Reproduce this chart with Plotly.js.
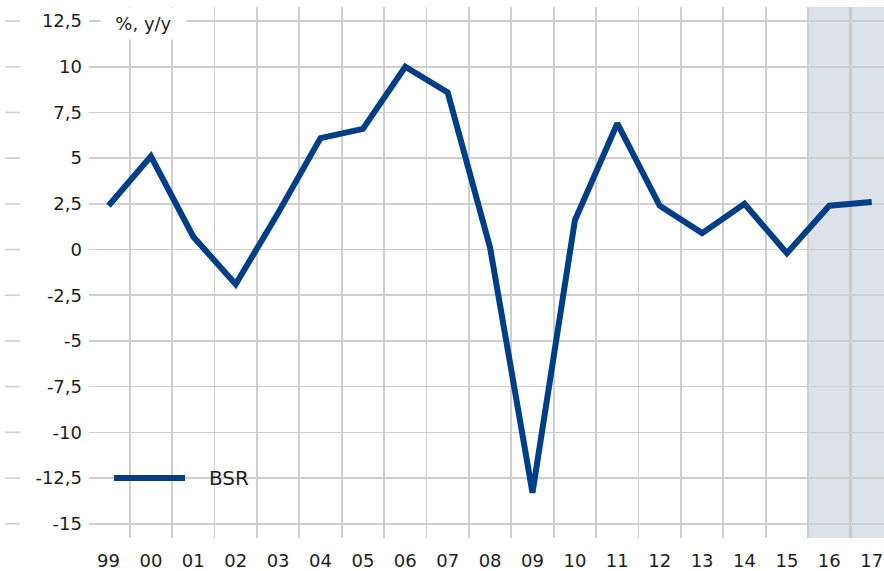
<!DOCTYPE html>
<html><head><meta charset="utf-8">
<script src="https://cdn.plot.ly/plotly-3.0.1.min.js"></script>
<style>html,body{margin:0;padding:0;background:#fff;}#chart{width:884px;height:571px;}</style>
</head><body><div id="chart"></div>
<script>
const years = ["99","00","01","02","03","04","05","06","07","08","09","10","11","12","13","14","15","16","17"];
const bsr = [2.4, 5.1, 0.7, -1.9, 2.0, 6.1, 6.6, 10.0, 8.6, 0.1, -13.3, 1.6, 6.9, 2.4, 0.9, 2.5, -0.2, 2.4, 2.6];
const yTickVals = [12.5, 10, 7.5, 5, 2.5, 0, -2.5, -5, -7.5, -10, -12.5, -15];
const yTickText = ["12,5","10","7,5","5","2,5","0","-2,5","-5","-7,5","-10","-12,5","-15"];
const seriesName = "BSR";
const unitLabel = "%, y/y";
const forecastFrom = "16";
const forecastSplit = "17";

const FONT = "DejaVu Sans";
const LINE = "#003f88";
const GRID = "#cfcfcf";
const TXT = "#1e1e1e";

// plot area pixels: left 89, right 884, top 7, bottom 538
const L = 89, W = 795, T = 7, H = 531;
const px = x => (x - L) / W;
const py = y => (T + H - y) / H;

const trace = {
  type: "scatter", mode: "lines", x: years, y: bsr, name: seriesName,
  line: {color: LINE, width: 6, shape: "linear"}, showlegend: false, hoverinfo: "skip"
};

const shapes = [];
const i0 = years.indexOf(forecastFrom) - 0.5;
const iSplit = years.indexOf(forecastSplit) - 0.5;
shapes.push({type: "rect", layer: "below", xref: "x", yref: "paper", x0: i0, x1: years.length + 1, y0: 0, y1: 1,
  fillcolor: "#dce2ea", line: {width: 0}});
shapes.push({type: "line", layer: "between", xref: "x", yref: "paper", x0: iSplit, x1: iSplit, y0: 0, y1: 1,
  line: {color: "#a9aeb6", width: 2}});
shapes.push({type: "line", layer: "between", xref: "x", yref: "paper", x0: i0, x1: i0, y0: 0, y1: 1,
  line: {color: "#c8ccd2", width: 1.6}});
// left tick dashes
yTickVals.forEach(v => {
  shapes.push({type: "line", xref: "paper", yref: "y", xsizemode: "pixel", xanchor: 0, x0: -84, x1: -69, y0: v, y1: v,
    line: {color: GRID, width: 1.6}});
});
// legend box
shapes.push({type: "rect", layer: "between", xref: "paper", yref: "paper", x0: px(100), x1: px(262), y0: py(492), y1: py(458),
  fillcolor: "#ffffff", line: {width: 0}});
shapes.push({type: "line", layer: "above", xref: "paper", yref: "y", x0: px(114), x1: px(185), y0: -12.5, y1: -12.5,
  line: {color: LINE, width: 6}});

const annotations = [
  {text: unitLabel, xref: "paper", yref: "paper", x: px(100), y: 1, xanchor: "left", yanchor: "top",
   showarrow: false, bgcolor: "#ffffff", width: 77, height: 23, borderpad: 4, align: "center",
   font: {family: FONT, size: 18, color: TXT}},
  {text: seriesName, xref: "paper", yref: "y", x: px(207), y: -12.5, xanchor: "left", yanchor: "middle",
   showarrow: false, font: {family: FONT, size: 20, color: TXT}}
];

const layout = {
  width: 884, height: 571,
  margin: {l: L, r: 884 - L - W, t: T, b: 571 - T - H, pad: 0},
  paper_bgcolor: "#ffffff", plot_bgcolor: "#ffffff",
  font: {family: FONT, size: 18, color: TXT},
  showlegend: false,
  xaxis: {
    type: "category", range: [-0.46, years.length - 1 + 0.29], tickson: "boundaries",
    showgrid: true, gridcolor: GRID, gridwidth: 1.6, ticks: "", showline: false, zeroline: false,
    ticklabelstandoff: 10, tickfont: {family: FONT, size: 18, color: TXT}, fixedrange: true
  },
  yaxis: {
    range: [-15.78, 13.27], tickmode: "array", tickvals: yTickVals, ticktext: yTickText,
    showgrid: true, gridcolor: GRID, gridwidth: 1.6, zeroline: false, showline: false, ticks: "",
    ticklabelstandoff: 6, tickfont: {family: FONT, size: 18, color: TXT}, fixedrange: true
  },
  shapes: shapes,
  annotations: annotations
};

Plotly.newPlot("chart", [trace], layout, {displayModeBar: false, staticPlot: true});
</script>
</body></html>
